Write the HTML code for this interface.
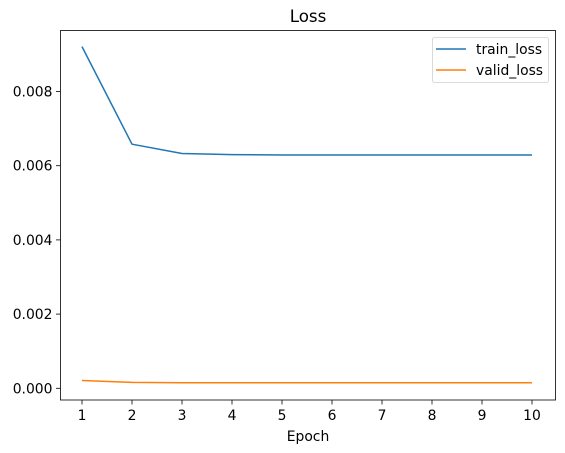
<!DOCTYPE html>
<html><head><meta charset="utf-8"><style>
body{margin:0;background:#fff}
svg{display:block;font-family:"DejaVu Sans","Liberation Sans",sans-serif}
</style></head><body>
<svg id="chart" width="565" height="453"></svg>
<script>
const epochs=[1,2,3,4,5,6,7,8,9,10];
const trainLoss=[0.00921,0.00658,0.00633,0.00630,0.00629,0.00629,0.00629,0.00629,0.00629,0.00629];
const validLoss=[0.00021,0.00016,0.00015,0.00015,0.00015,0.00015,0.00015,0.00015,0.00015,0.00015];
const yTicks=[0,0.002,0.004,0.006,0.008];
const yTickLabels=["0.000","0.002","0.004","0.006","0.008"];
const L=60.5,R=555.5,T=30.5,B=400;
const xs=e=>82+(e-1)*50;
const ys=v=>388.3-v*37100;
const NS="http://www.w3.org/2000/svg";
const svg=document.getElementById('chart');
function mk(t,a,p){const el=document.createElementNS(NS,t);for(const k in a)el.setAttribute(k,a[k]);(p||svg).appendChild(el);return el;}
let t=mk('text',{x:(L+R)/2,y:22,'text-anchor':'middle','font-size':16.7});t.textContent='Loss';


epochs.forEach(e=>{
 const g=mk('g',{});
 
 
 mk('line',{x1:xs(e),x2:xs(e),y1:B,y2:B+4.5,stroke:'#000','stroke-width':0.8},g);
 const tx=mk('text',{x:xs(e),y:B+20,'text-anchor':'middle','font-size':13.9},g);tx.textContent=e;
});
yTicks.forEach((v,i)=>{
 const g=mk('g',{});
 
 
 mk('line',{x1:L,x2:L-4.5,y1:ys(v),y2:ys(v),stroke:'#000','stroke-width':0.8},g);
 const tx=mk('text',{x:L-8,y:ys(v)+5,'text-anchor':'end','font-size':13.9},g);tx.textContent=yTickLabels[i];
});
t=mk('text',{x:(L+R)/2,y:441,'text-anchor':'middle','font-size':13.9});t.textContent='Epoch';


function line(d,c,n){const p=mk('polyline',{points:epochs.map((e,i)=>xs(e)+','+ys(d[i])).join(' '),fill:'none',stroke:c,'stroke-width':1.5,'stroke-linejoin':'round'});
 
 }
line(trainLoss,'#1f77b4','train-loss-line');
line(validLoss,'#ff7f0e','valid-loss-line');
const f=mk('rect',{x:L,y:T,width:R-L,height:B-T,fill:'none',stroke:'#000','stroke-width':0.8});


const lg=mk('g',{});


mk('rect',{x:432.5,y:37.5,width:116,height:45,rx:2,fill:'#fff',stroke:'#d0d0d0','stroke-width':0.8},lg);
[['train_loss','#1f77b4',49],['valid_loss','#ff7f0e',70]].forEach(([n,c,y])=>{
 const g=mk('g',{},lg);
 
 
 mk('line',{x1:436,x2:466,y1:y,y2:y,stroke:c,'stroke-width':1.5},g);
 const tx=mk('text',{x:476,y:y+5,'font-size':13.9},g);tx.textContent=n;
});
</script>
</body></html>
